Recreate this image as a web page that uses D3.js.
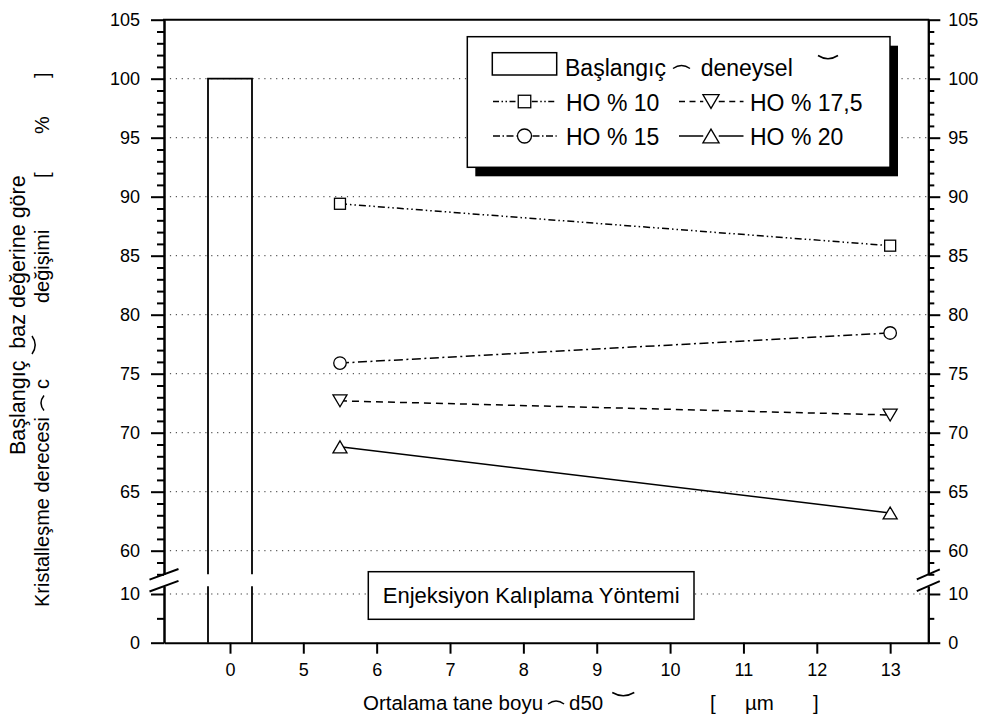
<!DOCTYPE html>
<html><head><meta charset="utf-8">
<script src="https://cdn.jsdelivr.net/npm/d3@7"></script>
<style>
body{margin:0;background:#fff}
text{font-family:"Liberation Sans",Arial,sans-serif;fill:#000}
</style>
</head><body>
<svg id="c" width="983" height="724"></svg>
<script>
// ---------------- data ----------------
const xTickValues = [0, 5, 6, 7, 8, 9, 10, 11, 12, 13];
const yUpperMajor = [60, 65, 70, 75, 80, 85, 90, 95, 100, 105];
const yLowerMajor = [0, 10];
const yLowerMinor = [5];
const gridUpper = [60, 65, 70, 75, 80, 85, 90, 95, 100];
const gridLower = [10];
const barCategories = [0];
const barValues = [100];
const xPoints = [5.5, 13];
const ho10 = [89.4, 85.85];
const ho15 = [75.9, 78.45];
const ho175 = [72.7, 71.5];
const ho20 = [68.8, 63.2];
const seriesNames = ["HO % 10", "HO % 17,5", "HO % 15", "HO % 20"];
const barName = ["Başlangıç", "deneysel"];
const boxLabel = "Enjeksiyon Kalıplama Yöntemi";

// ---------------- layout ----------------
const svg = d3.select("#c");
svg.append("rect").attr("width", 983).attr("height", 724).attr("fill", "#fff");
const L = 164, R = 928.3, T = 19.7, B = 642.7;

// piecewise x scale: the bar segment around 0 has the same unit width as 5..13
const x = d3.scaleLinear().domain([-0.9, 0.9, 5, 13.52]).range([L, 296, 303.3, R]);
const yTop = d3.scaleLinear().domain([58, 105]).range([574.3, T]);
const yBot = d3.scaleLinear().domain([0, 11.6]).range([B, 586.2]);

const series = [
  {name: seriesNames[0], vals: ho10, marker: "square", dash: "7,3,1.5,3,1.5,3"},
  {name: seriesNames[1], vals: ho175, marker: "triDown", dash: "7,5"},
  {name: seriesNames[2], vals: ho15, marker: "circle", dash: "9,3.5,2,3.5"},
  {name: seriesNames[3], vals: ho20, marker: "triUp", dash: null}
];

function marker(g, type, cx, cy, s) {
  const st = {fill: "#fff", stroke: "#000", "stroke-width": 1.3};
  let el;
  if (type === "square") {
    el = g.append("rect").attr("x", cx - s / 2).attr("y", cy - s / 2).attr("width", s).attr("height", s);
  } else if (type === "circle") {
    el = g.append("circle").attr("cx", cx).attr("cy", cy).attr("r", s / 2);
  } else {
    const w = s * 1.2, h = s * 1.02;
    const pts = type === "triUp"
      ? [[cx, cy - h / 2], [cx + w / 2, cy + h / 2], [cx - w / 2, cy + h / 2]]
      : [[cx - w / 2, cy - h / 2], [cx + w / 2, cy - h / 2], [cx, cy + h / 2]];
    el = g.append("polygon").attr("points", pts.map(p => p.join(",")).join(" "));
  }
  for (const k in st) el.attr(k, st[k]);
}
function arc(g, cx, cy, w, h, up) {
  g.append("path")
    .attr("d", `M${cx - w / 2},${cy} Q${cx},${cy + (up ? -2 * h : 2 * h)} ${cx + w / 2},${cy}`)
    .attr("fill", "none").attr("stroke", "#000").attr("stroke-width", 1.5);
}

// ---------------- grid ----------------
const grid = svg.append("g");
gridUpper.forEach(v => grid.append("line").attr("x1", L).attr("x2", R).attr("y1", yTop(v)).attr("y2", yTop(v)));
gridLower.forEach(v => grid.append("line").attr("x1", L).attr("x2", R).attr("y1", yBot(v)).attr("y2", yBot(v)));
grid.selectAll("line").attr("stroke", "#333").attr("stroke-width", 1).attr("stroke-dasharray", "1.2,4.7");

// ---------------- bar (broken) ----------------
const barG = svg.append("g").attr("fill", "none").attr("stroke", "#000").attr("stroke-width", 1.8);
barCategories.forEach((c, i) => {
  const x0 = x(c - 0.3), x1 = x(c + 0.3);
  const yv = yTop(barValues[i]);
  barG.append("path").attr("d", `M${x0},${yTop(58)} L${x0},${yv} L${x1},${yv} L${x1},${yTop(58)}`);
  barG.append("line").attr("x1", x0).attr("x2", x0).attr("y1", yBot(11.6)).attr("y2", yBot(0));
  barG.append("line").attr("x1", x1).attr("x2", x1).attr("y1", yBot(11.6)).attr("y2", yBot(0));
});

// ---------------- series ----------------
const line = d3.line().x(d => x(d[0])).y(d => yTop(d[1]));
series.forEach(s => {
  const pts = xPoints.map((xv, i) => [xv, s.vals[i]]);
  const p = svg.append("path").attr("d", line(pts)).attr("fill", "none").attr("stroke", "#000").attr("stroke-width", 1.5);
  if (s.dash) p.attr("stroke-dasharray", s.dash);
});
series.forEach(s => {
  xPoints.forEach((xv, i) => marker(svg, s.marker, x(xv), yTop(s.vals[i]), s.marker === "circle" ? 12.5 : s.marker === "square" ? 11 : 11.7));
});

// ---------------- legend ----------------
const lg = svg.append("g");
const lx = 467.3, ly = 36.7, lw = 422.7, lh = 130.6;
lg.append("rect").attr("x", lx + 8).attr("y", ly + 9).attr("width", lw).attr("height", lh).attr("fill", "#000");
lg.append("rect").attr("x", lx).attr("y", ly).attr("width", lw).attr("height", lh).attr("fill", "#fff").attr("stroke", "#000").attr("stroke-width", 1.5);
lg.append("rect").attr("x", 492.3).attr("y", 52.7).attr("width", 64.4).attr("height", 22.3).attr("fill", "none").attr("stroke", "#000").attr("stroke-width", 1.5);
const lfs = 23;
lg.append("text").attr("x", 565).attr("y", 75.7).attr("font-size", lfs).text(barName[0]);
arc(lg, 681.5, 68.5, 17, 3, true);
lg.append("text").attr("x", 700.7).attr("y", 75.7).attr("font-size", lfs).text(barName[1]);
arc(lg, 828, 55.5, 20, 3.2, false);
const legendPos = [
  {cx: 524.5, x0: 493, x1: 556.7, tx: 566, base: 110.5},
  {cx: 711, x0: 679, x1: 743.5, tx: 750, base: 110.5},
  {cx: 524.5, x0: 493, x1: 556.7, tx: 566, base: 145},
  {cx: 711, x0: 679, x1: 743.5, tx: 750, base: 145}
];
series.forEach((s, i) => {
  const p = legendPos[i];
  const cy = p.base - 9;
  const sz = s.marker === "circle" ? 14 : s.marker === "square" ? 12.5 : 13.5;
  [[p.x0, p.cx - sz / 2 - 1], [p.cx + sz / 2 + 1, p.x1]].forEach(([a, b]) => {
    const l = lg.append("line").attr("x1", a).attr("x2", b).attr("y1", cy).attr("y2", cy).attr("stroke", "#000").attr("stroke-width", 1.5);
    if (s.dash) l.attr("stroke-dasharray", s.marker === "triDown" ? "6,4.5" : s.marker === "square" ? "6,2.5,1.5,2.5,1.5,2.5" : "7,2.5,1.5,2.5");
  });
  marker(lg, s.marker, p.cx, cy, sz);
  lg.append("text").attr("x", p.tx).attr("y", p.base).attr("font-size", lfs).text(s.name);
});

// ---------------- annotation box ----------------
svg.append("rect").attr("x", 368.3).attr("y", 571.7).attr("width", 325.7).attr("height", 47.6)
  .attr("fill", "#fff").attr("stroke", "#000").attr("stroke-width", 1.5);
svg.append("text").attr("x", 531.2).attr("y", 602.7).attr("text-anchor", "middle").attr("font-size", 22).text(boxLabel);

// ---------------- axes ----------------
const tfs = 18;
function styleAxis(g, w) {
  g.select(".domain").attr("stroke-width", 2).attr("stroke", "#000");
  g.selectAll(".tick line").attr("stroke-width", w).attr("stroke", "#000");
  g.selectAll(".tick text").attr("font-size", tfs).attr("font-family", "Liberation Sans, Arial, sans-serif").attr("fill", "#000");
}
const upperMinor = d3.range(58, 106, 1).filter(v => v % 5 !== 0);
let g;
g = svg.append("g").attr("transform", `translate(${L},0)`).call(d3.axisLeft(yTop).tickValues(upperMinor).tickSize(7).tickSizeOuter(0).tickFormat(""));
styleAxis(g, 2);
g = svg.append("g").attr("transform", `translate(${L},0)`).call(d3.axisLeft(yTop).tickValues(yUpperMajor).tickSize(13).tickSizeOuter(0).tickPadding(11));
styleAxis(g, 2);
g = svg.append("g").attr("transform", `translate(${L},0)`).call(d3.axisLeft(yBot).tickValues(yLowerMinor).tickSize(7).tickSizeOuter(0).tickFormat(""));
styleAxis(g, 2);
g = svg.append("g").attr("transform", `translate(${L},0)`).call(d3.axisLeft(yBot).tickValues(yLowerMajor).tickSize(13).tickSizeOuter(0).tickPadding(11));
styleAxis(g, 2);
g = svg.append("g").attr("transform", `translate(${R},0)`).call(d3.axisRight(yTop).tickValues(upperMinor).tickSize(6).tickSizeOuter(0).tickFormat(""));
styleAxis(g, 2);
g = svg.append("g").attr("transform", `translate(${R},0)`).call(d3.axisRight(yTop).tickValues(yUpperMajor).tickSize(12).tickSizeOuter(0).tickPadding(8));
styleAxis(g, 2);
g = svg.append("g").attr("transform", `translate(${R},0)`).call(d3.axisRight(yBot).tickValues(yLowerMinor).tickSize(6).tickSizeOuter(0).tickFormat(""));
styleAxis(g, 2);
g = svg.append("g").attr("transform", `translate(${R},0)`).call(d3.axisRight(yBot).tickValues(yLowerMajor).tickSize(12).tickSizeOuter(0).tickPadding(8));
styleAxis(g, 2);
g = svg.append("g").attr("transform", `translate(0,${B})`).call(d3.axisBottom(x).tickValues(xTickValues).tickSize(11).tickSizeOuter(0).tickPadding(9.3).tickFormat(d3.format("d")));
styleAxis(g, 2);
svg.append("line").attr("x1", L - 1).attr("x2", R + 1).attr("y1", T).attr("y2", T).attr("stroke", "#000").attr("stroke-width", 2);

// break marks
const br = svg.append("g").attr("stroke", "#000").attr("stroke-width", 2);
[[L, 14.5, 5.35], [R, 11.5, 5]].forEach(([ax, hw, hh]) => {
  [yTop(58), yBot(11.6)].forEach(yc => {
    br.append("line").attr("x1", ax - hw).attr("y1", yc + hh).attr("x2", ax + hw).attr("y2", yc - hh);
  });
});

// ---------------- axis titles ----------------
const xt = svg.append("g").attr("font-size", 20.5);
const xb = 709.5;
const t1 = xt.append("text").attr("x", 363).attr("y", xb).text("Ortalama tane boyu");
const t1end = 363 + t1.node().getComputedTextLength();
arc(xt, t1end + 13, 704, 16, 3, true);
const d50 = xt.append("text").attr("x", t1end + 26).attr("y", xb).text("d50");
const d50end = t1end + 26 + d50.node().getComputedTextLength();
arc(xt, d50end + 20, 692.5, 22, 3.2, false);
xt.append("text").attr("x", 710).attr("y", xb).text("[");
xt.append("text").attr("x", 745).attr("y", xb).text("µm");
xt.append("text").attr("x", 813).attr("y", xb).text("]");

const yt = svg.append("g").attr("transform", "rotate(-90)");
yt.append("text").attr("x", -455).attr("y", 25).attr("font-size", 21.5).style("white-space", "pre").text("Başlangıç  baz değerine göre");
const b2 = 49;
const k = yt.append("g").attr("font-size", 20);
const kt = k.append("text").attr("x", -607).attr("y", b2).text("Kristalleşme derecesi");
const kend = -607 + kt.node().getComputedTextLength();
arc(k, kend + 14, b2 - 5, 15, 3, true);
k.append("text").attr("x", kend + 28).attr("y", b2).text("c");
arc(k, -345, b2 - 17, 18, 3.2, false);
k.append("text").attr("x", -303).attr("y", b2).text("değişimi");
k.append("text").attr("x", -178).attr("y", b2).text("[");
k.append("text").attr("x", -134).attr("y", b2).text("%");
k.append("text").attr("x", -78).attr("y", b2).text("]");
</script>
</body></html>
